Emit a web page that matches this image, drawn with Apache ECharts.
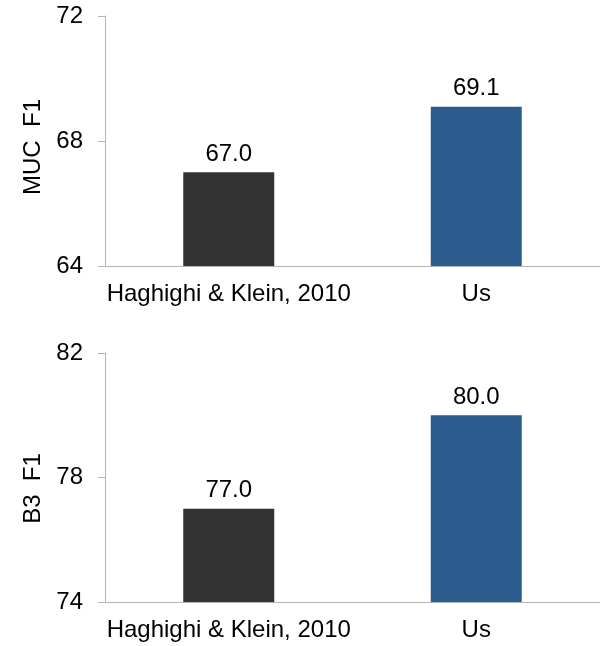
<!DOCTYPE html>
<html>
<head>
<meta charset="utf-8">
<script src="https://cdn.jsdelivr.net/npm/echarts@6/dist/echarts.min.js"></script>
<style>
  html, body { margin: 0; padding: 0; background: #fff; }
  #chart { width: 600px; height: 646px; }
</style>
</head>
<body>
<div id="chart"></div>
<script>
// Systems compared in both panels
const systems = ['Haghighi & Klein, 2010', 'Us'];
// MUC F1 scores (top panel)
const mucScores = [67.0, 69.1];
// B3 F1 scores (bottom panel)
const b3Scores = [77.0, 80.0];
// Value-axis ranges and tick steps
const mucRange = [64, 72];
const b3Range = [74, 82];
const tickStep = 4;

const barColors = ['#333333', '#2A5D8E'];
const axisGrey = '#b5b5b5';
const font = 'Liberation Sans, Arial, sans-serif';

function categoryAxis(gridIndex) {
  return {
    type: 'category',
    gridIndex: gridIndex,
    data: systems,
    axisLine: { lineStyle: { color: axisGrey, width: 1 } },
    axisTick: { show: false },
    axisLabel: { interval: 0, color: '#000', fontFamily: font, fontSize: 24, margin: 16 }
  };
}

function valueAxis(gridIndex, range, name, nameShift) {
  return {
    type: 'value',
    gridIndex: gridIndex,
    min: range[0],
    max: range[1],
    interval: tickStep,
    name: name,
    nameLocation: 'middle',
    nameGap: 60,
    nameTextStyle: {
      color: '#000', fontFamily: font, fontSize: 24,
      padding: [0, nameShift * 2, 0, 0]
    },
    axisLine: { show: true, lineStyle: { color: axisGrey, width: 1 } },
    axisTick: { show: true, length: 7, lineStyle: { color: axisGrey } },
    axisLabel: { color: '#000', fontFamily: font, fontSize: 24, margin: 22 },
    splitLine: { show: false }
  };
}

function barSeries(index, values) {
  return {
    type: 'bar',
    xAxisIndex: index,
    yAxisIndex: index,
    barWidth: 91,
    data: values.map((v, i) => ({ value: v, itemStyle: { color: barColors[i] } })),
    label: {
      show: true,
      position: 'top',
      distance: 6,
      color: '#000',
      fontFamily: font,
      fontSize: 24,
      formatter: p => p.value.toFixed(1)
    }
  };
}

const chart = echarts.init(document.getElementById('chart'));
chart.setOption({
  animation: false,
  backgroundColor: '#fff',
  grid: [
    { left: 105, top: 16, width: 499, height: 250 },
    { left: 105, top: 353, width: 499, height: 249 }
  ],
  xAxis: [categoryAxis(0), categoryAxis(1)],
  yAxis: [
    valueAxis(0, mucRange, 'MUC  F1', 6),
    valueAxis(1, b3Range, 'B3  F1', 11)
  ],
  series: [barSeries(0, mucScores), barSeries(1, b3Scores)]
});
</script>
</body>
</html>
